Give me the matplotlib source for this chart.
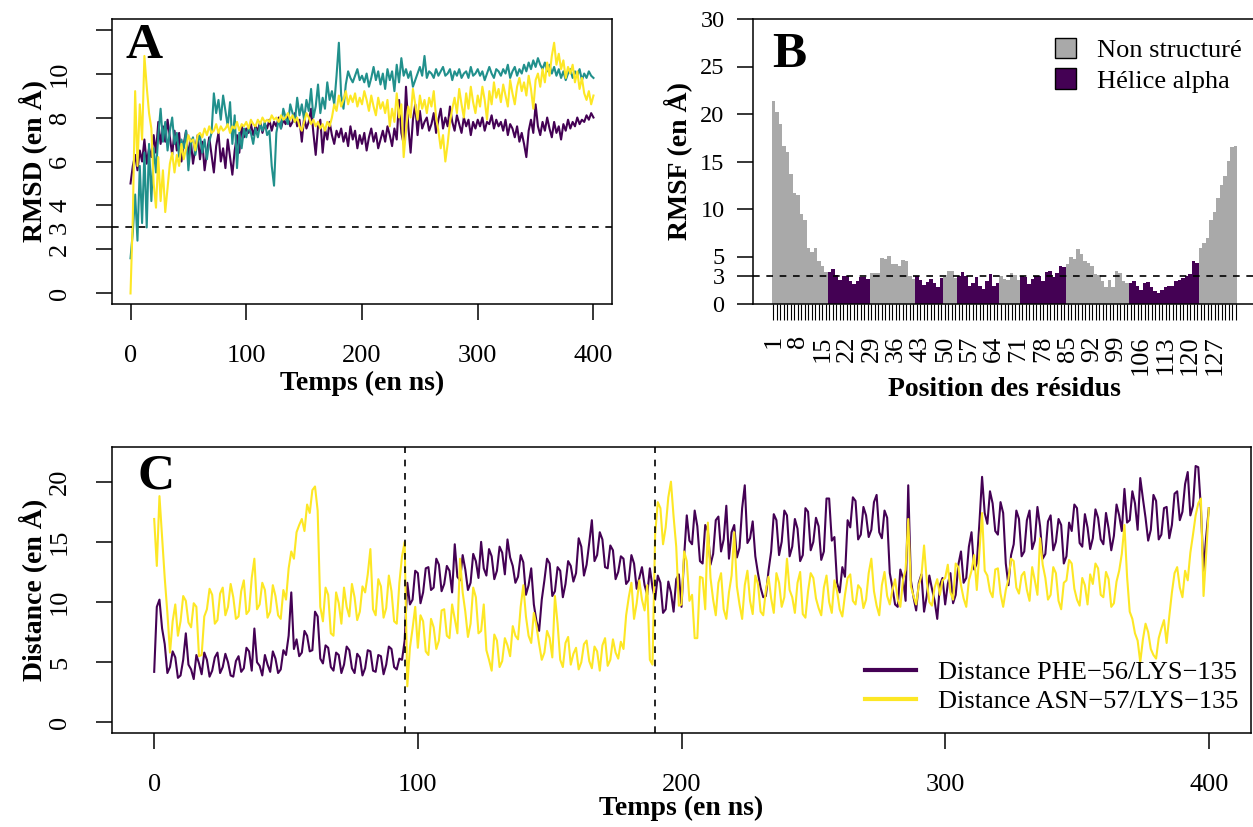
import matplotlib
matplotlib.use("Agg")
import matplotlib.pyplot as plt
import numpy as np
from matplotlib.patches import Patch

plt.rcParams["font.family"] = ["Liberation Serif", "DejaVu Serif"]

PURPLE = "#440154"
TEAL = "#21908C"
YELLOW = "#FDE725"
GREY = "#A9A9A9"

# ---- data -------------------------------------------------------------
time_a = np.arange(0, 401, 2)   # panel A sampled every 2 ns
time_c = np.arange(0, 401, 1)   # panel C sampled every 1 ns

# panel A : RMSD (en A)
rmsd_purple = [
    5.0, 5.8, 6.3, 5.6, 6.5, 6.0, 7.0, 5.9, 6.6, 6.2,
    7.2, 6.4, 7.8, 6.8, 7.6, 6.9, 7.9, 7.1, 6.3, 7.4,
    6.5, 7.3, 6.0, 6.8, 7.4, 6.2, 7.0, 5.9, 6.6, 7.2,
    6.1, 6.9, 5.6, 6.4, 7.1, 6.3, 5.5, 6.7, 7.3, 6.0,
    6.6, 5.7, 7.0, 6.2, 5.4, 6.5, 7.2, 6.4, 7.6, 7.1,
    7.5, 7.3, 7.7, 7.2, 7.6, 7.4, 7.8, 7.3, 7.7, 7.5,
    7.9, 7.4, 7.8, 7.6, 8.0, 7.5, 7.9, 7.7, 8.1, 7.6,
    7.8, 8.2, 7.6, 7.9, 6.9, 8.0, 7.5, 7.8, 8.4, 7.3,
    6.3, 7.6, 7.9, 6.4, 7.5, 7.0, 7.8, 7.2, 6.8, 7.4,
    7.1, 7.5, 6.9, 7.3, 6.7, 7.6, 7.0, 7.4, 6.6, 7.2,
    6.8, 7.3, 6.5, 7.1, 7.5, 6.9, 7.3, 6.6, 7.0, 7.4,
    6.9, 7.6, 7.2, 6.7, 7.5, 7.0, 8.8, 7.3, 6.8, 9.4,
    7.6, 6.4, 7.9, 8.6, 7.2, 8.3, 7.5, 7.8, 8.0, 7.4,
    7.7, 8.2, 7.3, 7.9, 8.4, 7.5, 8.0, 7.6, 8.5, 7.8,
    7.4, 8.1, 7.7, 7.3, 8.0, 7.6, 7.9, 7.2, 7.8, 7.5,
    7.9, 7.6, 8.0, 7.4, 7.8, 7.7, 8.1, 7.5, 7.9, 7.6,
    7.8, 7.4, 7.9, 7.2, 7.7, 7.5, 7.1, 7.6, 6.9, 7.3,
    6.8, 6.2, 7.4, 7.9, 7.3, 8.6, 7.6, 7.2, 7.8, 7.4,
    8.0, 7.5, 7.1, 7.8, 7.3, 7.6, 7.0, 7.7, 7.4, 7.9,
    7.5, 7.8, 7.6, 8.0, 7.7, 7.9, 7.8, 8.1, 7.9, 8.2,
    8.0,
]
rmsd_teal = [
    1.6, 2.8, 4.5, 2.4, 5.8, 3.2, 6.4, 3.0, 6.8, 4.2,
    6.6, 5.5, 7.2, 8.4, 6.9, 7.8, 6.5, 7.4, 8.0, 6.8,
    7.3, 6.2, 7.0, 6.6, 7.4, 5.6, 6.8, 7.1, 6.3, 6.9,
    7.2, 6.4, 7.0, 6.1, 6.9, 7.3, 9.1, 8.2, 8.8, 7.9,
    9.0, 8.3, 7.6, 8.7, 6.8, 8.1, 5.7, 7.3, 6.6, 7.5,
    7.1, 7.6, 7.3, 6.8, 7.5, 7.1, 7.7, 7.4, 7.8, 7.2,
    7.4, 5.8, 4.9, 7.3, 7.9, 7.5, 8.4, 8.0, 7.7, 8.6,
    8.2, 7.8, 8.9, 8.1, 8.6, 7.9, 8.8, 8.3, 9.3, 8.0,
    8.5, 9.5, 8.2, 8.9, 8.4, 9.6, 8.8, 9.2, 8.6, 9.9,
    11.4, 9.0, 8.4, 9.5, 10.1, 9.8, 9.6, 9.9, 10.2, 9.7,
    9.9, 9.6, 10.0, 9.4, 9.8, 10.3, 9.7, 10.1, 9.5, 10.0,
    9.3, 10.2, 9.7, 10.1, 9.2, 10.4, 9.6, 10.7, 9.9, 10.2,
    9.8, 10.1, 9.4, 9.7, 10.0, 10.3, 9.9, 10.8, 9.8, 10.1,
    10.0, 9.8, 10.2, 9.9, 10.1, 10.3, 9.9, 10.0, 10.2, 9.7,
    10.1, 9.9, 10.2, 9.8, 10.0, 10.1, 9.8, 10.3, 9.9, 10.0,
    10.2, 9.9, 10.1, 9.7, 10.0, 10.3, 10.0, 9.8, 10.2, 10.1,
    9.9, 10.2, 10.0, 10.4, 9.8, 10.1, 10.3, 9.9, 10.2, 10.0,
    10.4, 10.1, 10.5, 10.2, 10.6, 10.3, 10.7, 10.4, 10.2, 10.5,
    10.1, 10.4, 10.0, 10.3, 9.9, 10.2, 9.8, 10.1, 9.7, 10.0,
    10.2, 9.8, 10.1, 9.9, 10.2, 9.7, 10.0, 9.8, 10.1, 9.9,
    9.8,
]
rmsd_yellow = [
    0.0, 3.5, 9.2, 5.8, 8.6, 7.0, 10.8, 9.4, 8.2, 7.5,
    5.0, 3.9, 6.2, 4.2, 5.6, 3.7, 4.8, 5.9, 6.4, 5.5,
    6.3, 5.8, 6.8, 6.1, 6.6, 7.2, 6.9, 7.0, 6.5, 7.2,
    7.3, 7.1, 7.5, 7.2, 7.6, 7.3, 7.4, 7.7, 7.3, 7.6,
    7.4, 7.5, 7.7, 7.3, 7.6, 7.5, 7.8, 7.4, 7.7, 7.6,
    7.8, 7.5, 7.9, 7.7, 7.6, 7.9, 7.7, 8.0, 7.8, 7.9,
    7.8, 8.1, 7.9, 8.0, 7.8, 8.1, 7.9, 8.0, 8.2, 7.9,
    8.1, 7.8, 8.0, 7.6, 7.4, 7.8, 8.2, 8.0, 7.7, 7.9,
    7.6, 7.8, 7.5, 7.7, 7.4, 7.8, 7.6, 8.0, 8.6, 8.3,
    9.0, 8.5, 8.8, 9.2, 8.6, 9.0, 8.7, 9.1, 8.5, 8.9,
    8.6, 9.2, 8.8, 8.3, 9.0, 8.5, 8.1, 8.9, 8.4, 8.7,
    8.2, 8.8, 7.6, 8.4, 7.8, 9.1, 8.0, 8.6, 6.2, 7.4,
    8.5, 8.0, 9.3, 8.6, 7.9, 9.0, 8.4, 8.8, 8.2, 8.9,
    8.5, 9.2, 8.0, 7.4, 6.6, 7.2, 6.0, 6.8, 7.8, 8.4,
    8.9, 8.2, 9.3, 8.6, 8.0, 9.1, 8.4, 9.4, 8.7, 8.2,
    9.0, 8.5, 9.4, 8.8, 7.9, 9.2, 8.6, 9.6, 8.9, 9.3,
    8.7, 9.5, 9.0, 8.5, 9.7, 9.1, 8.6, 9.4, 9.8, 9.2,
    9.6, 9.0, 9.9, 9.3, 8.4, 9.7, 10.0, 9.4, 10.2, 9.6,
    10.5, 9.9, 10.8, 11.4, 10.4, 10.9, 10.2, 10.6, 9.8, 10.3,
    10.0, 10.4, 9.6, 10.1, 9.3, 9.8, 9.1, 8.8, 9.2, 8.6,
    9.0,
]

# panel B : RMSF per residue (en A)
residues = np.arange(1, 134)
rmsf = [
    21.4, 20.2, 18.9, 16.6, 16.0, 13.7, 11.7, 11.5, 9.5, 8.8, 5.9, 5.5, 5.9, 4.5, 4.0, 3.4,
    3.4, 3.7, 3.1, 2.55, 3.0, 3.0, 2.4, 2.1, 2.45, 2.8, 2.8, 2.6,
    3.25, 3.3, 3.3, 4.8, 4.7, 5.1, 4.2, 4.2, 4.0, 4.65, 4.5, 2.9, 2.6,
    3.0, 2.55, 2.0, 2.3, 2.6, 2.2, 1.8, 2.7,
    2.8, 3.5, 3.5, 2.7,
    2.9, 3.4, 2.9, 1.9, 2.2, 2.8, 1.9, 1.6, 2.45, 3.2, 1.9, 2.2,
    3.0, 2.6, 2.5, 3.3, 3.1, 2.5,
    3.0, 2.85, 2.1, 2.6, 3.0, 2.9, 2.4, 3.4, 3.5, 2.85, 3.3, 3.95, 3.85,
    4.2, 5.0, 4.7, 5.8, 5.25, 4.5, 4.3, 3.95, 3.2, 3.1, 2.4, 1.8, 2.55, 1.8, 3.5, 3.25, 2.45, 2.2,
    2.2, 2.4, 1.9, 1.5, 2.2, 2.3, 1.8, 1.35, 1.2, 1.5, 1.8, 1.9, 1.9, 2.45, 2.55, 2.7, 3.0, 3.2, 4.5, 4.3,
    5.9, 6.4, 7.0, 8.8, 9.7, 11.2, 12.5, 13.5, 15.1, 16.5, 16.6,
]
helix_segments = [(17, 28), (42, 49), (54, 65), (72, 84), (103, 122)]
structure_labels = ["Non structuré", "Hélice alpha"]

# panel C : distances (en A), one value per ns
dist_phe56 = [
    4.2, 9.6, 10.2, 7.8, 6.5, 4.1, 4.6, 5.9, 5.4, 3.7,
    3.9, 5.2, 7.4, 4.8, 4.4, 3.6, 5.6, 4.9, 4.0, 5.8,
    5.2, 3.8, 4.3, 5.4, 5.8, 4.1, 4.6, 5.7, 5.0, 3.9,
    3.8, 5.1, 5.5, 4.2, 4.5, 6.2, 5.9, 4.3, 7.8, 5.0,
    4.7, 3.9, 5.6, 4.8, 4.2, 5.9, 5.3, 4.1, 4.4, 6.0,
    5.6, 7.2, 10.8, 6.1, 6.9, 5.5, 5.8, 7.6, 7.2, 5.9,
    6.0, 9.2, 8.8, 5.3, 4.9, 6.4, 6.2, 4.6, 4.3, 5.8,
    5.6, 4.1, 4.8, 6.3, 6.0, 4.5, 4.1, 5.7, 5.4, 3.9,
    4.5, 6.0, 5.9, 4.3, 4.2, 5.6, 5.5, 4.0, 4.8, 6.3,
    6.1, 4.6, 4.4, 5.3, 5.2, 6.8, 11.6, 9.8, 10.2, 12.6,
    12.4, 9.9, 10.8, 12.8, 12.9, 11.0, 11.2, 13.6, 13.1, 10.9,
    11.5, 13.0, 12.6, 10.8, 14.8, 12.1, 11.8, 13.9, 12.7, 11.0,
    11.6, 14.0, 13.4, 12.0, 15.0, 12.8, 12.2, 14.4, 13.8, 11.9,
    12.6, 14.6, 14.1, 12.3, 15.2, 13.7, 13.0, 11.6, 12.1, 13.9,
    13.3, 10.6, 11.4, 12.8, 9.8, 8.4, 7.6, 10.2, 11.8, 13.6,
    13.2, 10.5, 10.9, 12.9, 12.6, 10.4, 11.5, 13.4, 13.0, 11.7,
    12.4, 15.3, 14.6, 12.2, 13.1, 14.9, 16.8, 13.4, 13.9, 15.8,
    15.2, 12.9, 12.8, 14.7, 14.3, 11.9, 12.5, 13.8, 13.6, 11.5,
    11.8, 13.9, 13.2, 11.1, 12.0, 12.9, 11.4, 10.6, 12.8, 11.2,
    10.2, 12.2, 11.6, 9.1, 9.4, 11.7, 10.8, 9.2, 11.9, 12.3,
    9.6, 13.8, 17.2, 15.1, 14.8, 17.6, 16.3, 13.4, 13.2, 16.4,
    15.9, 13.1, 14.0, 16.8, 17.1, 14.2, 15.2, 18.0, 13.6, 15.8,
    16.4, 13.7, 14.5, 17.8, 19.7, 14.9, 15.3, 16.7, 13.8, 12.4,
    11.2, 10.4, 10.5, 12.6, 14.2, 17.3, 16.8, 13.9, 15.0, 17.6,
    17.2, 13.8, 14.6, 16.9, 16.1, 13.4, 13.9, 17.8, 17.5, 14.3,
    15.0, 17.0, 16.3, 13.5, 14.2, 18.6, 18.6, 15.1, 15.4, 11.6,
    10.8, 12.9, 12.1, 16.8, 16.2, 18.7, 18.4, 15.2, 15.6, 17.9,
    17.2, 15.4, 16.0, 18.3, 18.9, 15.8, 15.3, 17.6, 17.0, 12.4,
    11.2, 9.8, 9.6, 12.7, 12.0, 10.1, 19.7, 11.8, 10.4, 9.3,
    11.6, 12.3, 9.2, 10.5, 12.2, 11.1, 10.1, 8.6, 11.4, 12.0,
    9.8, 11.5, 12.4, 9.9, 10.6, 13.1, 14.2, 11.6, 12.0, 14.6,
    15.8, 12.7, 13.2, 16.6, 20.4, 17.4, 16.5, 19.2, 18.2, 15.9,
    15.6, 18.3, 17.4, 13.2, 11.4, 13.9, 14.8, 17.6, 16.9, 13.8,
    14.2, 16.8, 17.6, 14.4, 15.1, 17.9, 16.3, 13.6, 14.0, 16.7,
    17.2, 14.3, 15.0, 16.9, 16.4, 13.2, 13.8, 16.6, 15.9, 18.1,
    17.8, 14.9, 14.6, 17.3, 16.2, 14.4, 15.3, 17.7, 17.0, 15.2,
    14.8, 17.4, 16.1, 14.3, 15.5, 18.1, 17.2, 15.9, 19.4, 16.6,
    16.8, 19.2, 18.2, 16.0, 20.3, 18.6, 17.0, 15.1, 16.0, 18.9,
    18.4, 15.2, 15.6, 17.8, 17.9, 15.3, 16.4, 19.0, 19.2, 16.8,
    17.5, 19.8, 20.8, 17.2, 18.0, 21.3, 21.2, 17.8, 12.6, 15.4,
    17.8,
]
dist_asn57 = [
    16.9, 13.0, 18.8, 15.4, 12.0, 9.1, 5.8, 8.4, 9.8, 7.2,
    8.4, 10.5, 10.1, 8.3, 7.9, 9.9, 9.6, 5.5, 5.6, 8.8,
    9.4, 11.1, 10.6, 8.2, 8.5, 10.7, 11.2, 8.9, 9.6, 11.5,
    10.4, 8.6, 8.8, 10.9, 11.8, 9.0, 9.3, 12.0, 13.6, 9.4,
    9.8, 11.6, 11.0, 8.7, 9.2, 11.4, 10.5, 8.9, 8.6, 11.0,
    10.2, 12.8, 14.2, 13.6, 15.8, 16.4, 16.9, 15.9, 18.1, 17.4,
    19.3, 19.6, 17.6, 9.6, 8.4, 11.2, 10.6, 7.4, 7.2, 10.8,
    9.9, 8.2, 11.2, 9.6, 8.8, 11.5, 10.4, 8.5, 9.2, 11.3,
    10.8, 12.3, 14.4, 9.4, 8.9, 11.9, 11.3, 8.7, 9.5, 12.2,
    10.9, 8.4, 8.2, 11.6, 13.8, 15.0, 3.0, 6.2, 7.8, 9.6,
    6.2, 8.9, 8.4, 5.9, 5.6, 8.6, 7.9, 6.1, 6.8, 9.3,
    9.4, 7.2, 7.0, 9.8, 8.6, 7.4, 13.6, 10.8, 9.2, 7.1,
    8.2, 11.2, 10.4, 7.4, 7.6, 9.8, 6.0, 5.2, 4.3, 7.3,
    6.8, 4.6, 5.1, 7.0, 6.4, 5.5, 8.0, 7.2, 6.9, 9.6,
    11.4, 8.8, 7.2, 6.6, 9.1, 8.0, 6.5, 5.2, 5.8, 7.6,
    7.0, 5.4, 10.5, 8.2, 5.2, 4.6, 6.6, 7.1, 4.8, 5.7,
    6.2, 4.4, 5.0, 6.5, 6.8, 5.1, 4.5, 6.3, 5.9, 4.3,
    6.4, 7.0, 4.7, 5.2, 6.9, 5.8, 5.3, 6.7, 6.1, 8.9,
    10.4, 11.6, 8.6, 9.9, 11.8, 10.2, 9.3, 11.4, 5.2, 4.8,
    15.6, 18.3, 17.8, 14.8, 16.2, 18.7, 20.0, 17.1, 14.6, 9.7,
    9.8, 14.2, 13.4, 10.1, 10.6, 7.0, 7.0, 12.1, 12.0, 9.4,
    16.6, 12.0, 10.2, 8.9, 11.6, 12.4, 9.4, 8.6, 10.8, 12.2,
    15.8, 11.3, 9.8, 8.6, 11.4, 12.6, 10.1, 9.0, 12.2, 11.5,
    9.2, 8.9, 11.0, 12.1, 10.3, 9.1, 12.4, 11.6, 9.6, 10.4,
    13.6, 11.0, 10.4, 9.1, 11.6, 12.5, 9.0, 8.7, 10.9, 12.4,
    12.0, 10.3, 9.5, 8.9, 11.2, 12.2, 10.0, 9.1, 11.8, 10.9,
    9.4, 8.8, 10.6, 12.0, 12.3, 10.1, 9.8, 11.4, 11.1, 9.5,
    10.2, 12.4, 13.6, 10.9, 9.7, 8.9, 11.4, 12.5, 10.5, 9.8,
    11.0, 11.9, 10.2, 9.6, 11.8, 12.7, 16.9, 11.3, 10.5, 9.8,
    11.4, 12.2, 14.7, 11.8, 10.0, 9.7, 11.2, 11.9, 10.6, 11.8,
    12.0, 13.1, 10.8, 10.2, 13.2, 12.9, 11.4, 10.3, 9.6, 11.8,
    12.6, 13.9, 11.0, 14.2, 17.4, 12.6, 12.2, 10.9, 10.4, 12.7,
    12.8, 10.7, 9.6, 11.0, 11.9, 13.6, 13.4, 11.2, 10.7, 12.2,
    12.5, 11.0, 10.1, 12.9, 11.8, 10.6, 15.3, 13.1, 12.0, 10.2,
    10.6, 12.9, 12.4, 10.1, 9.4, 11.6, 11.8, 13.5, 13.2, 11.1,
    10.2, 9.7, 12.0, 11.4, 9.8, 12.3, 11.5, 13.2, 12.8, 10.6,
    10.4, 12.5, 11.9, 9.6, 9.9, 11.7, 12.6, 14.0, 16.4, 12.1,
    9.2, 8.6, 7.4, 6.8, 5.0, 6.9, 8.2, 7.5, 6.1, 5.6,
    5.3, 7.0, 7.8, 8.5, 6.6, 8.8, 10.8, 12.4, 12.9, 11.2,
    10.4, 12.6, 11.8, 14.1, 15.6, 17.2, 18.2, 18.6, 10.5, 14.0,
    17.8,
]
dist_labels = ["Distance PHE\u221256/LYS\u2212135", "Distance ASN\u221257/LYS\u2212135"]
transition_times = [95, 190]

# ---- figure -----------------------------------------------------------
W, H = 1253, 827
fig = plt.figure(figsize=(W / 100, H / 100), dpi=100)


def box(l, t, r, b):
    return [l / W, 1 - b / H, (r - l) / W, (b - t) / H]


axA = fig.add_axes(box(112, 19, 612, 304))
axB = fig.add_axes(box(753, 19, 1256, 304))
axC = fig.add_axes(box(112, 447, 1251, 733))

TICK_FS = 19
lab_font = dict(fontsize=20, fontweight="bold")
dash = (0, (4, 4))

for ax in (axA, axB, axC):
    for s in ax.spines.values():
        s.set_linewidth(1.1)

# A
axA.plot(time_a, rmsd_purple, color=PURPLE, lw=1.5)
axA.plot(time_a, rmsd_teal, color=TEAL, lw=1.5)
axA.plot(time_a, rmsd_yellow, color=YELLOW, lw=1.5)
axA.axhline(3, color="black", ls=dash, lw=1.2)
axA.set_xlim(-16, 416)
axA.set_ylim(-0.48, 12.48)
axA.set_xticks([0, 100, 200, 300, 400])
axA.set_yticks([0, 2, 3, 4, 6, 8, 10, 12])
axA.set_yticklabels(["0", "2", "3", "4", "6", "8", "10", ""])
axA.set_xlabel("Temps (en ns)", va="center", **lab_font)
axA.set_ylabel("RMSD (en \u00c5)", va="center", **lab_font)
axA.xaxis.set_label_coords(0.5, -0.277)
axA.yaxis.set_label_coords(-0.158, 0.5)
axA.text(0.026, 0.985, "A", transform=axA.transAxes, fontsize=37,
         fontweight="bold", ha="left", va="top")

# B
bar_colors = [GREY] * len(residues)
for start, end in helix_segments:
    for r in range(start, end + 1):
        bar_colors[r - 1] = PURPLE
axB.bar(residues, rmsf, width=1.0, color=bar_colors, edgecolor="none")
axB.axhline(3, color="black", ls=dash, lw=1.2)
axB.set_xlim(-4.82, 138.82)
axB.set_ylim(0, 30)
axB.set_yticks([0, 3, 5, 10, 15, 20, 25, 30])
axB.set_xticks(residues)
axB.set_xticklabels([str(r) if (r - 1) % 7 == 0 else "" for r in residues])
axB.tick_params(axis="x", length=11.5, width=0.8, pad=11, labelsize=TICK_FS,
                labelrotation=90)
axB.tick_params(axis="y", length=11.5, width=1.1, pad=9, labelsize=17.5)
axB.set_xlabel("Position des résidus", va="center", **lab_font)
axB.set_ylabel("RMSF (en \u00c5)", va="center", **lab_font)
axB.xaxis.set_label_coords(0.5, -0.30)
axB.yaxis.set_label_coords(-0.149, 0.5)
axB.text(0.038, 0.955, "B", transform=axB.transAxes, fontsize=37,
         fontweight="bold", ha="left", va="top")
handles = [Patch(facecolor=GREY, edgecolor="black", lw=1),
           Patch(facecolor=PURPLE, edgecolor="black", lw=1)]
axB.legend(handles, structure_labels, loc="upper right",
           bbox_to_anchor=(0.972, 0.935), frameon=False, fontsize=TICK_FS,
           handlelength=0.8, handleheight=0.8, handletextpad=0.8,
           labelspacing=0.25, borderpad=0, borderaxespad=0)

# C
axC.plot(time_c, dist_phe56, color=PURPLE, lw=1.5, label=dist_labels[0])
axC.plot(time_c, dist_asn57, color=YELLOW, lw=1.5, label=dist_labels[1])
for t in transition_times:
    axC.axvline(t, color="black", ls=dash, lw=1.2)
axC.set_xlim(-16, 416)
axC.set_ylim(-0.88, 22.88)
axC.set_xticks([0, 100, 200, 300, 400])
axC.set_yticks([0, 5, 10, 15, 20])
axC.set_xlabel("Temps (en ns)", va="center", **lab_font)
axC.set_ylabel("Distance (en \u00c5)", va="center", **lab_font)
axC.xaxis.set_label_coords(0.5, -0.262)
axC.yaxis.set_label_coords(-0.0694, 0.5)
axC.text(0.022, 0.978, "C", transform=axC.transAxes, fontsize=37,
         fontweight="bold", ha="left", va="top")
leg = axC.legend(loc="lower right", bbox_to_anchor=(0.989, 0.07), frameon=False,
                 fontsize=TICK_FS, handlelength=1.93, handletextpad=0.83,
                 labelspacing=0.2, borderpad=0, borderaxespad=0)
for line in leg.get_lines():
    line.set_linewidth(3)

for ax in (axA, axC):
    ax.tick_params(length=11.5, width=1.1, pad=18, labelsize=TICK_FS)
    for lab in ax.get_yticklabels():
        lab.set_rotation(90)
        lab.set_va("center")

fig.savefig("out.png", dpi=100)
